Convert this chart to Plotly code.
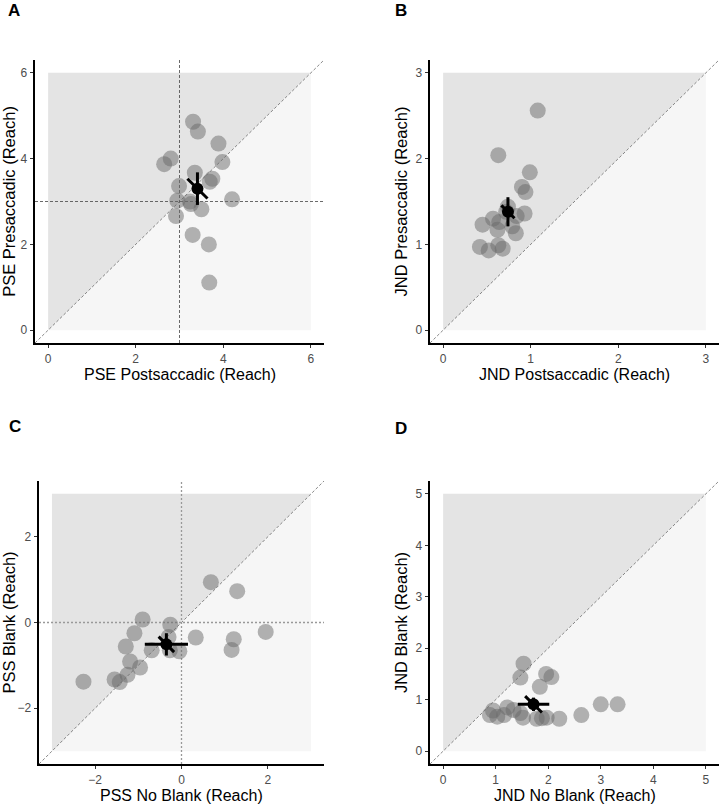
import plotly.graph_objects as go

# ---------------- data ----------------
# Panel A: PSE Postsaccadic (x) vs PSE Presaccadic (y)
a_x = [3.31, 3.42, 3.89, 2.80, 2.65, 3.98, 3.35, 3.75, 3.69, 2.99,
       2.95, 3.24, 3.26, 3.50, 4.20, 2.92, 3.30, 3.67, 3.68]
a_y = [4.86, 4.63, 4.35, 4.00, 3.87, 3.92, 3.67, 3.53, 3.46, 3.36,
       3.02, 3.00, 2.94, 2.82, 3.05, 2.66, 2.22, 2.00, 1.11]
a_mean = [3.41, 3.30]
a_err = [0.08, 0.38, 0.23]   # x half-width, y half-width, diagonal half-width

# Panel B: JND Postsaccadic (x) vs JND Presaccadic (y)
b_x = [1.08, 0.63, 0.99, 0.90, 0.94, 0.74, 0.93, 0.84, 0.57, 0.64,
       0.45, 0.62, 0.79, 0.83, 0.42, 0.52, 0.63, 0.68, 0.72]
b_y = [2.56, 2.04, 1.84, 1.67, 1.61, 1.44, 1.36, 1.33, 1.30, 1.26,
       1.23, 1.17, 1.21, 1.13, 0.97, 0.93, 0.99, 0.95, 1.38]
b_mean = [0.74, 1.38]
b_err = [0.04, 0.17, 0.075]

# Panel C: PSS No Blank (x) vs PSS Blank (y)
c_x = [0.68, 1.29, -0.90, -0.26, -1.09, 0.33, 1.95, 1.21, 1.16, -1.29,
       -0.30, -0.69, -0.05, -0.27, -1.19, -0.96, -1.25, -1.55, -1.43, -2.27]
c_y = [0.94, 0.73, 0.07, -0.05, -0.25, -0.35, -0.22, -0.39, -0.64, -0.56,
       -0.34, -0.65, -0.67, -0.65, -0.91, -1.05, -1.22, -1.33, -1.39, -1.38]
c_mean = [-0.35, -0.51]
c_err = [0.50, 0.26, 0.18]

# Panel D: JND No Blank (x) vs JND Blank (y)
d_x = [1.53, 1.47, 1.96, 2.06, 1.84, 3.00, 3.32, 2.63, 2.21, 1.97,
       1.78, 1.52, 0.95, 0.89, 1.03, 1.22, 1.16, 1.34, 1.47, 1.88]
d_y = [1.70, 1.43, 1.50, 1.44, 1.25, 0.91, 0.91, 0.70, 0.63, 0.65,
       0.63, 0.65, 0.79, 0.70, 0.67, 0.85, 0.70, 0.80, 0.74, 0.64]
d_mean = [1.72, 0.91]
d_err = [0.30, 0.13, 0.16]

panel_letters = ["A", "B", "C", "D"]
x_titles = ["PSE Postsaccadic (Reach)", "JND Postsaccadic (Reach)",
            "PSS No Blank (Reach)", "JND No Blank (Reach)"]
y_titles = ["PSE Presaccadic (Reach)", "JND Presaccadic (Reach)",
            "PSS Blank (Reach)", "JND Blank (Reach)"]
limits = [[0, 6], [0, 3], [-3, 3], [0, 5]]         # shaded square
tick_vals = [[0, 2, 4, 6], [0, 1, 2, 3], [-2, 0, 2], [0, 1, 2, 3, 4, 5]]
ref_lines = [3, None, 0, None]                     # cross-hair reference value

# ---------------- layout geometry ----------------
W, H = 720, 806
x_px = [[35, 324], [430, 719], [39, 324], [430, 719]]
y_px = [[60, 343], [60, 343], [481, 764], [481, 764]]
x_domains = [[a / W, b / W] for a, b in x_px]
y_domains = [[1 - b / H, 1 - a / H] for a, b in y_px]
letter_pos = [(6, 11), (393, 11), (7, 427), (393, 428)]

FONT = "Liberation Sans, Arial, sans-serif"
fig = go.Figure()

panels = [
    (a_x, a_y, a_mean, a_err),
    (b_x, b_y, b_mean, b_err),
    (c_x, c_y, c_mean, c_err),
    (d_x, d_y, d_mean, d_err),
]

shapes = []
annotations = []
layout_axes = {}

for i, (px, py, mean, err) in enumerate(panels):
    n = "" if i == 0 else str(i + 1)
    xa, ya = "x" + n, "y" + n
    lo, hi = limits[i]
    pad = 0.05 * (hi - lo)
    rng = [lo - pad, hi + pad]

    # shaded triangles
    shapes.append(dict(type="path", xref=xa, yref=ya, layer="below",
                       path=f"M {lo},{lo} L {lo},{hi} L {hi},{hi} Z",
                       fillcolor="#e4e4e4", line=dict(width=0)))
    shapes.append(dict(type="path", xref=xa, yref=ya, layer="below",
                       path=f"M {lo},{lo} L {hi},{lo} L {hi},{hi} Z",
                       fillcolor="#f6f6f6", line=dict(width=0)))
    # diagonal identity line
    shapes.append(dict(type="line", xref=xa, yref=ya, layer="below",
                       x0=rng[0], y0=rng[0], x1=rng[1], y1=rng[1],
                       line=dict(color="#555555", width=0.7, dash="3px,2px")))
    # cross-hair reference lines
    rv = ref_lines[i]
    if rv is not None:
        if i == 0:
            lstyle = dict(color="#444444", width=0.8, dash="3px,2px")
        else:
            lstyle = dict(color="#999999", width=1.3, dash="2px,2px")
        shapes.append(dict(type="line", xref=xa, yref=ya, layer="below",
                           x0=rv, x1=rv, y0=rng[0], y1=rng[1], line=lstyle))
        shapes.append(dict(type="line", xref=xa, yref=ya, layer="below",
                           x0=rng[0], x1=rng[1], y0=rv, y1=rv, line=lstyle))

    # individual points
    fig.add_trace(go.Scatter(x=px, y=py, mode="markers", xaxis=xa, yaxis=ya,
                             marker=dict(size=16, color="rgba(105,105,105,0.5)",
                                         line=dict(width=0)),
                             showlegend=False, hoverinfo="x+y"))
    mx, my = mean
    ex, ey, ed = err
    # horizontal, vertical and diagonal error bars
    for bx, by in [([mx - ex, mx + ex], [my, my]),
                   ([mx, mx], [my - ey, my + ey]),
                   ([mx - ed, mx + ed], [my + ed, my - ed])]:
        fig.add_trace(go.Scatter(x=bx, y=by, mode="lines", xaxis=xa, yaxis=ya,
                                 line=dict(color="black", width=3),
                                 showlegend=False, hoverinfo="skip"))
    fig.add_trace(go.Scatter(x=[mx], y=[my], mode="markers", xaxis=xa, yaxis=ya,
                             marker=dict(size=12, color="black"),
                             showlegend=False))

    axis_common = dict(range=rng, showgrid=False, zeroline=False, showline=True,
                       linecolor="black", linewidth=1.6, ticks="outside",
                       ticklen=3.5, tickwidth=1, tickcolor="#333333",
                       tickvals=tick_vals[i],
                       tickfont=dict(family=FONT, size=12, color="#4d4d4d"),
                       fixedrange=True)
    layout_axes["xaxis" + n] = dict(axis_common, domain=x_domains[i], anchor=ya)
    layout_axes["yaxis" + n] = dict(axis_common, domain=y_domains[i], anchor=xa,
                                    title=dict(text=y_titles[i], standoff=4,
                                               font=dict(family=FONT, size=16.5, color="black")))

    # x-axis title (placed just below the tick labels)
    xc = (x_px[i][0] + x_px[i][1]) / 2
    annotations.append(dict(text=x_titles[i], xref="paper", yref="paper",
                            x=xc / W, y=1 - (y_px[i][1] + 22) / H,
                            xanchor="center", yanchor="top", showarrow=False,
                            borderpad=0,
                            font=dict(family=FONT, size=16, color="black")))

    lx, ly = letter_pos[i]
    annotations.append(dict(text=f"<b>{panel_letters[i]}</b>", xref="paper", yref="paper",
                            x=lx / W, y=1 - ly / H, xanchor="left", yanchor="middle",
                            showarrow=False,
                            font=dict(family=FONT, size=17, color="black")))

fig.update_layout(
    width=W, height=H,
    margin=dict(l=0, r=0, t=0, b=0),
    paper_bgcolor="white", plot_bgcolor="white",
    shapes=shapes, annotations=annotations,
    **layout_axes,
)

fig.write_html("out.html", config={"displayModeBar": False},
               post_script="document.body.style.margin='0';document.body.style.overflow='hidden';")
